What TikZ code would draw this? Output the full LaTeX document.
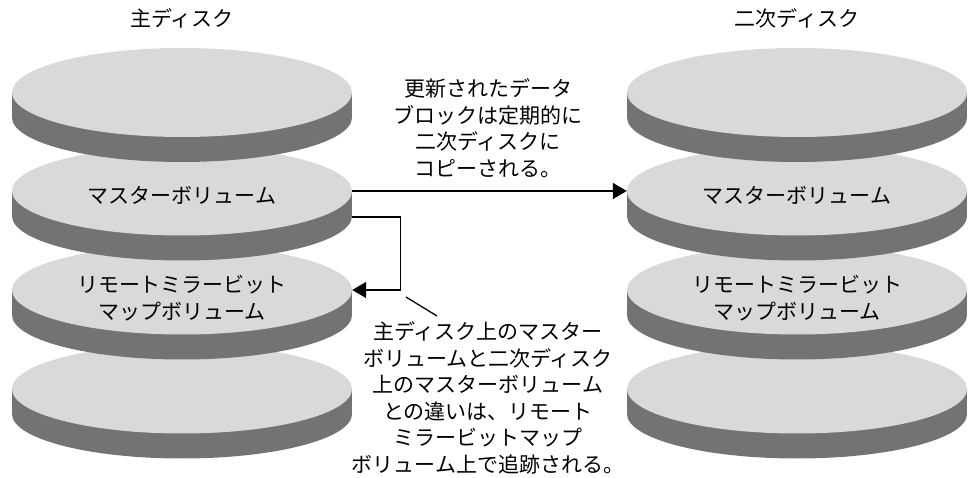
\documentclass[tikz,border=0pt]{standalone}
\usepackage{fontspec}
\newfontfamily\jp{Noto Sans CJK JP}
\usetikzlibrary{arrows.meta,shapes.geometric}

\definecolor{topgray}{HTML}{D9D9D9}
\definecolor{sidegray}{HTML}{737373}

\tikzset{
  disktop/.style={ellipse, fill=topgray, draw=none, inner sep=0pt,
    minimum width=340pt, minimum height=89pt},
  jptext/.style={font=\jp\fontsize{21}{26.5}\selectfont, align=center, inner sep=0pt},
  link/.style={line width=1.3pt, -{Triangle[length=14pt,width=16pt]}},
  thinline/.style={line width=1.3pt},
}

% one platter: dark rim first, then the light top face as a named node
\newcommand\drawplatter[3]{%
  \fill[sidegray] (#2-170,#3) rectangle (#2+170,#3+25);
  \fill[sidegray] (#2,#3+25) ellipse [x radius=170pt, y radius=44.5pt];
  \node[disktop] (#1) at (#2,#3) {};
}

\begin{document}
\begin{tikzpicture}[x=1pt,y=-1pt]
  \useasboundingbox (0,0) rectangle (970,478);

  % primary stack (drawn bottom-up so upper platters overlap lower ones)
  \drawplatter{l4}{182}{389}
  \drawplatter{l3}{182}{290}
  \drawplatter{l2}{182}{191}
  \drawplatter{l1}{182}{92.5}

  % secondary stack
  \drawplatter{r4}{797}{389}
  \drawplatter{r3}{797}{290}
  \drawplatter{r2}{797}{191}
  \drawplatter{r1}{797}{92.5}

  % headings
  \node[jptext] (ltitle) at (182,18) {主ディスク};
  \node[jptext] (rtitle) at (797,18) {二次ディスク};

  % platter labels
  \node[jptext] (lmaster) at (182,195) {マスターボリューム};
  \node[jptext] (lbitmap) at (182,298) {リモートミラービット\\マップボリューム};
  \node[jptext] (rmaster) at (797,195) {マスターボリューム};
  \node[jptext] (rbitmap) at (797,298) {リモートミラービット\\マップボリューム};

  % explanations
  \node[jptext] (copy) at (488,128)
    {更新されたデータ\\ブロックは定期的に\\二次ディスクに\\コピーされる。};
  \node[jptext] (note) at (488,398)
    {主ディスク上のマスター\\ボリュームと二次ディスク\\上のマスターボリューム\\との違いは、リモート\\ミラービットマップ\\ボリューム上で追跡される。};

  % replication to the secondary master volume
  \draw[link] (l2.east) -- (r2.west);

  % tracking loop into the bitmap volume
  \draw[link] ([yshift=-26pt]l2.east) -- ++(48,0) |- (l3.east);

  % pointer from the note to the loop
  \coordinate (p1) at (406,297);
  \coordinate (p2) at (437,316);
  \draw[thinline] (p1) -- (p2);
\end{tikzpicture}
\end{document}
